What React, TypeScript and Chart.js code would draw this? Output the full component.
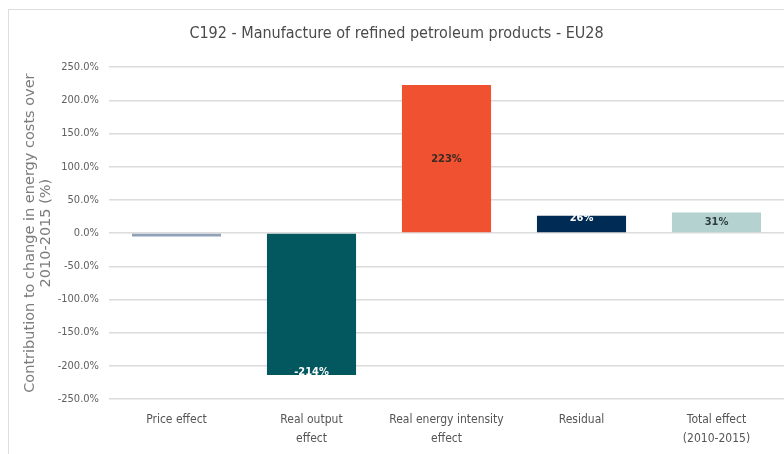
import React, { useEffect, useRef } from "react";
import { Chart, registerables } from "chart.js";

Chart.register(...registerables);

const categories: string[][] = [
  ["Price effect"],
  ["Real output", "effect"],
  ["Real energy intensity", "effect"],
  ["Residual"],
  ["Total effect", "(2010-2015)"],
];
const values: number[] = [-5, -214, 223, 26, 31];
const valueLabels: string[] = ["", "-214%", "223%", "26%", "31%"];
const barColors: string[] = ["#8fa1b6", "#03575f", "#ef5131", "#002b55", "#b4d2d0"];
const labelColors: string[] = ["#ffffff", "#ffffff", "#3a2a22", "#ffffff", "#2f3f3f"];
const labelAnchor: string[] = ["center", "end", "center", "start", "center"];
const yTicks: number[] = [250, 200, 150, 100, 50, 0, -50, -100, -150, -200, -250];

const FONT = "'Liberation Sans Narrow', 'DejaVu Sans Condensed', 'Arial Narrow', sans-serif";

const labelPlugin = {
  id: "barLabels",
  afterDatasetsDraw(chart: any) {
    const meta = chart.getDatasetMeta(0);
    const ctx = chart.ctx;
    ctx.save();
    ctx.font = `bold 11px ${FONT}`;
    ctx.textAlign = "center";
    ctx.textBaseline = "middle";
    meta.data.forEach((bar: any, i: number) => {
      const txt = valueLabels[i];
      if (!txt) return;
      const top = Math.min(bar.y, bar.base);
      const bottom = Math.max(bar.y, bar.base);
      let y = (top + bottom) / 2;
      if (labelAnchor[i] === "end") y = bottom - 3;
      if (labelAnchor[i] === "start") y = top + 2;
      ctx.fillStyle = labelColors[i];
      ctx.fillText(txt, bar.x, y);
    });
    ctx.restore();
  },
};

export default function App() {
  const ref = useRef<HTMLCanvasElement>(null);
  useEffect(() => {
    if (!ref.current) return;
    const chart = new Chart(ref.current, {
      type: "bar",
      data: {
        labels: categories,
        datasets: [
          {
            data: values,
            backgroundColor: barColors,
            borderWidth: 0,
            categoryPercentage: 1,
            barPercentage: 0.66,
          },
        ],
      },
      options: {
        animation: false,
        responsive: false,
        maintainAspectRatio: false,
        layout: { padding: { left: 0, right: 11, top: 0, bottom: 0 } },
        plugins: {
          legend: { display: false },
          tooltip: { enabled: false },
          title: {
            display: true,
            text: "C192 - Manufacture of refined petroleum products - EU28",
            color: "#4a4a4a",
            font: { family: FONT, size: 16, weight: "normal" },
            padding: { top: 14, bottom: 24 },
          },
        },
        scales: {
          x: {
            grid: { display: false, drawTicks: false },
            border: { display: false },
            ticks: {
              color: "#555555",
              font: { family: FONT, size: 12, lineHeight: 1.55 },
              padding: 12,
              maxRotation: 0,
              autoSkip: false,
            },
            afterFit: (s: any) => {
              s.height = 55;
            },
          },
          y: {
            min: -250,
            max: 250,
            afterBuildTicks: (s: any) => {
              s.ticks = yTicks.map((v) => ({ value: v }));
            },
            grid: { color: "#dcdcdc", lineWidth: 1.5, drawTicks: false },
            border: { display: false },
            ticks: {
              color: "#606060",
              font: { family: FONT, size: 11 },
              padding: 10,
              callback: (v: any) => Number(v).toFixed(1) + "%",
            },
            title: {
              display: true,
              text: ["Contribution to change in energy costs over", "2010-2015 (%)"],
              color: "#7c7c7c",
              font: { family: "'DejaVu Sans', sans-serif", size: 14.5, lineHeight: 1.1 },
              padding: { top: 13, bottom: 0 },
            },
            afterFit: (s: any) => {
              s.width = 100;
            },
          },
        },
      },
      plugins: [labelPlugin],
    });
    return () => chart.destroy();
  }, []);

  return (
    <div
      style={{
        position: "fixed",
        left: 0,
        top: 0,
        width: 784,
        height: 454,
        overflow: "hidden",
        background: "#ffffff",
      }}
    >
      <div
        style={{
          position: "absolute",
          left: 8,
          top: 9,
          width: 800,
          height: 460,
          borderLeft: "1px solid #dedede",
          borderTop: "1px solid #dedede",
        }}
      >
        <canvas ref={ref} width={786} height={444} style={{ display: "block" }} />
      </div>
    </div>
  );
}
